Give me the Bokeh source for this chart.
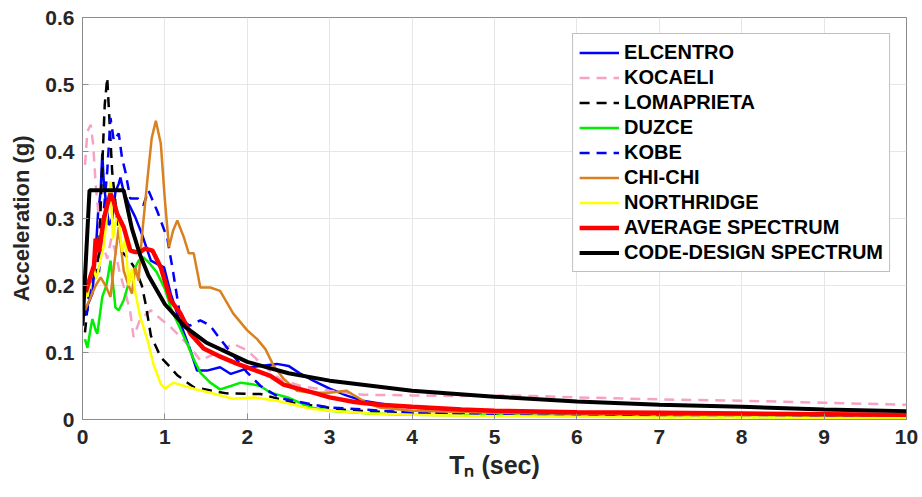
from bokeh.plotting import figure
from bokeh.models import FixedTicker, Legend, LegendItem
from bokeh.embed import file_html
from bokeh.resources import INLINE

# ---------------- data ----------------
elc_t = [0.03,0.06,0.12,0.16,0.19,0.22,0.24,0.26,0.28,0.32,0.36,0.40,0.44,0.46,0.50,0.56,0.64,0.72,0.83,0.91,0.99,1.07,1.19,1.31,1.39,1.51,1.67,1.80,1.92,2.04,2.16,2.36,2.50,2.65,2.80,3.0,3.2,3.4,3.7,4.0,4.6,5.0,6.0,7.0,8.0,9.0,10.0]
elc_a = [0.158,0.17,0.188,0.25,0.31,0.34,0.397,0.35,0.33,0.29,0.30,0.34,0.352,0.361,0.34,0.322,0.302,0.277,0.237,0.232,0.227,0.188,0.143,0.103,0.073,0.073,0.078,0.068,0.073,0.078,0.08,0.083,0.08,0.068,0.058,0.046,0.036,0.028,0.022,0.018,0.013,0.011,0.009,0.008,0.007,0.006,0.006]

koc_t = [0.03,0.06,0.10,0.13,0.16,0.20,0.25,0.30,0.35,0.40,0.45,0.52,0.58,0.62,0.70,0.83,0.95,1.07,1.31,1.43,1.60,1.83,2.0,2.2,2.4,2.65,3.0,3.4,4.0,4.6,5.0,5.5,6.0,7.0,8.0,9.0,10.0]
koc_a = [0.38,0.43,0.44,0.41,0.35,0.30,0.26,0.24,0.27,0.25,0.22,0.19,0.16,0.123,0.15,0.163,0.15,0.138,0.108,0.088,0.098,0.113,0.103,0.08,0.06,0.05,0.043,0.037,0.036,0.035,0.036,0.035,0.033,0.03,0.028,0.025,0.022]

lom_t = [0.03,0.08,0.12,0.16,0.20,0.24,0.27,0.30,0.33,0.36,0.42,0.48,0.56,0.64,0.72,0.77,0.83,0.95,1.05,1.15,1.35,1.75,2.16,2.56,3.2,4.0,5.0,7.0,10.0]
lom_a = [0.13,0.19,0.22,0.21,0.25,0.38,0.47,0.51,0.44,0.37,0.30,0.25,0.24,0.225,0.20,0.17,0.125,0.093,0.08,0.066,0.048,0.039,0.038,0.025,0.014,0.009,0.007,0.005,0.004]

duz_t = [0.03,0.06,0.10,0.12,0.16,0.18,0.24,0.29,0.34,0.40,0.44,0.50,0.58,0.68,0.74,0.80,0.90,1.0,1.07,1.17,1.27,1.35,1.43,1.55,1.67,1.80,1.92,2.04,2.16,2.28,2.49,2.77,3.0,3.5,4.0,5.0,6.0,7.0,8.0,9.0,10.0]
duz_a = [0.12,0.107,0.137,0.15,0.133,0.128,0.183,0.20,0.237,0.167,0.163,0.178,0.212,0.237,0.242,0.235,0.22,0.195,0.167,0.14,0.113,0.09,0.07,0.055,0.045,0.05,0.055,0.053,0.05,0.04,0.033,0.018,0.013,0.009,0.007,0.006,0.005,0.004,0.004,0.003,0.003]

kob_t = [0.03,0.06,0.10,0.15,0.20,0.25,0.30,0.34,0.38,0.44,0.48,0.52,0.58,0.67,0.74,0.80,0.91,1.03,1.10,1.19,1.30,1.43,1.55,1.64,1.80,2.0,2.16,2.4,2.8,3.0,3.4,4.0,5.0,6.0,7.0,8.0,10.0]
kob_a = [0.155,0.163,0.2,0.24,0.22,0.30,0.37,0.45,0.416,0.427,0.39,0.37,0.33,0.33,0.32,0.342,0.31,0.27,0.22,0.15,0.14,0.148,0.14,0.125,0.1,0.07,0.05,0.032,0.022,0.018,0.015,0.01,0.007,0.005,0.005,0.004,0.003]

chi_t = [0.03,0.10,0.16,0.22,0.28,0.34,0.38,0.44,0.50,0.56,0.60,0.64,0.68,0.72,0.79,0.84,0.89,0.95,1.0,1.05,1.10,1.15,1.23,1.29,1.35,1.43,1.55,1.67,1.83,2.0,2.12,2.22,2.32,2.44,2.6,2.8,3.0,3.2,3.45,3.6,4.0,5.0,6.0,7.0,8.0,9.0,10.0]
chi_a = [0.163,0.183,0.20,0.212,0.20,0.183,0.227,0.287,0.222,0.2,0.188,0.227,0.207,0.272,0.361,0.42,0.446,0.412,0.327,0.257,0.282,0.297,0.272,0.248,0.248,0.197,0.197,0.192,0.158,0.133,0.12,0.105,0.08,0.061,0.043,0.04,0.04,0.043,0.025,0.018,0.013,0.01,0.009,0.008,0.007,0.007,0.006]

nor_t = [0.03,0.06,0.10,0.13,0.17,0.22,0.26,0.30,0.34,0.37,0.41,0.44,0.48,0.52,0.56,0.60,0.64,0.70,0.79,0.86,0.95,1.0,1.1,1.35,1.55,1.83,2.08,2.36,2.77,3.0,3.5,4.0,5.0,6.0,7.0,8.0,10.0]
nor_a = [0.195,0.183,0.21,0.227,0.21,0.24,0.26,0.31,0.355,0.27,0.30,0.30,0.25,0.27,0.2,0.225,0.19,0.153,0.118,0.083,0.053,0.046,0.055,0.046,0.04,0.031,0.033,0.028,0.016,0.013,0.009,0.007,0.005,0.004,0.003,0.003,0.002]

avg_t = [0.04,0.10,0.14,0.16,0.20,0.26,0.30,0.34,0.38,0.42,0.50,0.58,0.64,0.70,0.76,0.85,0.95,1.07,1.19,1.31,1.47,1.65,1.88,2.04,2.28,2.44,2.65,2.8,3.0,3.3,3.6,4.0,4.6,5.0,6.0,7.0,8.0,9.0,10.0]
avg_a = [0.19,0.215,0.23,0.27,0.25,0.30,0.32,0.337,0.325,0.307,0.287,0.252,0.25,0.25,0.255,0.252,0.227,0.178,0.158,0.128,0.106,0.095,0.083,0.076,0.065,0.052,0.045,0.04,0.033,0.026,0.022,0.019,0.015,0.013,0.011,0.01,0.009,0.008,0.007]

code_t = [0,0.085,0.5,0.6,0.7,0.8,1.0,1.25,1.5,2.0,2.5,3.0,4.0,5.0,6.0,7.0,8.0,9.0,10.0]
code_a = [0.14,0.342,0.342,0.285,0.245,0.215,0.172,0.138,0.115,0.086,0.069,0.058,0.043,0.034,0.027,0.022,0.019,0.015,0.0125]

x_ticks = [0,1,2,3,4,5,6,7,8,9,10]
y_ticks = [0,0.1,0.2,0.3,0.4,0.5,0.6]
y_tick_labels = ["0","0.1","0.2","0.3","0.4","0.5","0.6"]

series = [
    ("ELCENTRO", elc_t, elc_a, "#0000ff", 2.5, "solid"),
    ("KOCAELI", koc_t, koc_a, "#f7a1c6", 2.5, "10 7"),
    ("LOMAPRIETA", lom_t, lom_a, "#000000", 2.5, "10 7"),
    ("DUZCE", duz_t, duz_a, "#00ee00", 2.5, "solid"),
    ("KOBE", kob_t, kob_a, "#0000ff", 2.5, "10 7"),
    ("CHI-CHI", chi_t, chi_a, "#d9801f", 2.5, "solid"),
    ("NORTHRIDGE", nor_t, nor_a, "#ffff00", 2.5, "solid"),
    ("AVERAGE SPECTRUM", avg_t, avg_a, "#ff0000", 4.5, "solid"),
    ("CODE-DESIGN SPECTRUM", code_t, code_a, "#000000", 4, "solid"),
]

FONT = "Liberation Sans"
TXT = "#262626"

p = figure(width=922, height=497, x_range=(0, 10), y_range=(0, 0.6),
           output_backend="svg", toolbar_location=None,
           min_border_left=82, min_border_right=16, min_border_top=17,
           min_border_bottom=78)
p.background_fill_color = "white"
p.border_fill_color = "white"
p.outline_line_color = "#8c8c8c"
p.outline_line_width = 1

items = []
for name, t, a, col, w, dash in series:
    r = p.line(t, a, line_color=col, line_width=w, line_dash=dash)
    items.append(LegendItem(label=name, renderers=[r]))

for ax in (p.xaxis[0], p.yaxis[0]):
    ax.axis_line_color = "#8c8c8c"
    ax.major_tick_line_color = "#8c8c8c"
    ax.major_tick_in = 6
    ax.major_tick_out = 0
    ax.minor_tick_line_color = None
    ax.major_label_text_font = FONT
    ax.major_label_text_font_style = "bold"
    ax.major_label_text_font_size = "21px"
    ax.major_label_text_color = TXT
    ax.axis_label_text_font = FONT
    ax.axis_label_text_font_style = "bold"
    ax.axis_label_text_color = TXT

p.yaxis.axis_label_text_font_size = "22px"
p.xaxis.axis_label_text_font_size = "25px"
p.xaxis.ticker = FixedTicker(ticks=x_ticks)
p.yaxis.ticker = FixedTicker(ticks=y_ticks)
p.yaxis.major_label_overrides = {v: s for v, s in zip(y_ticks, y_tick_labels)}
p.xaxis.major_label_standoff = 10
p.yaxis.major_label_standoff = 8
p.xaxis.axis_label = "Tₙ (sec)"
p.yaxis.axis_label = "Acceleration (g)"
p.xaxis.axis_label_standoff = 4
p.yaxis.axis_label_standoff = 8

p.xgrid.grid_line_color = "#e6e6e6"
p.ygrid.grid_line_color = "#e6e6e6"

legend = Legend(items=items, location="top_right")
legend.label_text_font = FONT
legend.label_text_font_style = "bold"
legend.label_text_font_size = "20px"
legend.label_text_color = "#000000"
legend.glyph_width = 40
legend.glyph_height = 25
legend.label_height = 25
legend.label_standoff = 5
legend.spacing = 0
legend.padding = 6
legend.margin = 16
legend.border_line_color = "#7f7f7f"
legend.border_line_width = 1
legend.background_fill_color = "white"
legend.background_fill_alpha = 1
p.add_layout(legend)

open("out.html", "w").write(file_html(p, INLINE))
